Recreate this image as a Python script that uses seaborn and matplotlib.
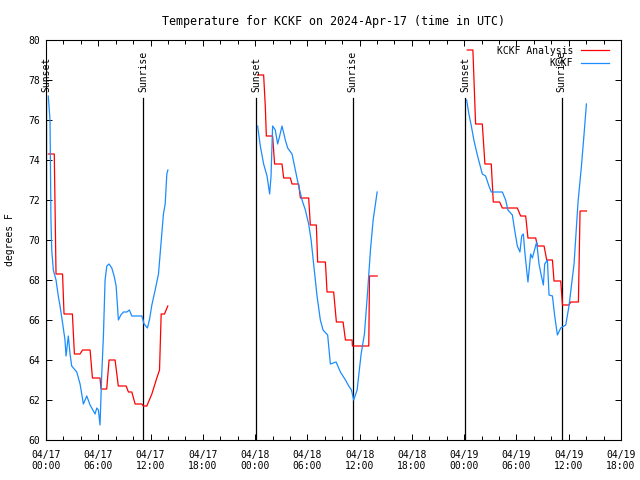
import pandas as pd
import seaborn as sns
import matplotlib
matplotlib.use('Agg')
import matplotlib.pyplot as plt
import matplotlib.dates as mdates

# hours after 2024-04-17 00:00 UTC, temperatures in degrees F
anl_day1_hours = [0.27, 0.95, 1.15, 1.9, 2.07, 3.03, 3.26, 3.9, 4.2, 5.06, 5.33, 6.2, 6.32, 6.97, 7.24,
                  7.93, 8.3, 9.2, 9.46, 9.85, 10.23, 11.0, 11.18, 11.57, 12.15, 12.72, 13.03, 13.22, 13.6, 13.98]
anl_day1_temps = [74.3, 74.3, 68.3, 68.3, 66.3, 66.3, 64.3, 64.3, 64.5, 64.5, 63.1, 63.1, 62.55, 62.55, 64.0,
                  64.0, 62.7, 62.7, 62.4, 62.4, 61.8, 61.8, 61.7, 61.7, 62.3, 63.1, 63.5, 66.3, 66.3, 66.7]
anl_day2_hours = [24.29, 24.98, 25.17, 25.29, 26.01, 26.24, 27.09, 27.28, 28.05, 28.24, 29.0, 29.2, 30.15,
                  30.34, 31.03, 31.18, 32.07, 32.26, 33.02, 33.33, 34.1, 34.37, 35.14, 35.17, 37.05, 37.13, 38.01]
anl_day2_temps = [78.25, 78.25, 76.7, 75.2, 75.2, 73.8, 73.8, 73.1, 73.1, 72.8, 72.8, 72.1, 72.1,
                  70.75, 70.75, 68.9, 68.9, 67.4, 67.4, 65.9, 65.9, 65.0, 65.0, 64.7, 64.7, 68.2, 68.2]
anl_day3_hours = [48.36, 49.0, 49.31, 50.08, 50.38, 51.11, 51.34, 52.07, 52.38, 54.1, 54.48, 55.06, 55.32,
                  56.21, 56.4, 57.17, 57.47, 58.13, 58.31, 59.08, 59.28, 60.03, 60.23, 61.11, 61.3, 62.03]
anl_day3_temps = [79.5, 79.5, 75.8, 75.8, 73.8, 73.8, 71.9, 71.9, 71.6, 71.6, 71.2, 71.2, 70.1,
                  70.1, 69.7, 69.7, 69.0, 69.0, 67.95, 67.95, 66.75, 66.75, 66.9, 66.9, 71.45, 71.45]

obs_day1_hours = [0.26, 0.46, 0.57, 0.66, 0.84, 1.15, 1.41, 1.61, 1.92, 2.18, 2.3, 2.56, 2.76, 2.95, 3.53,
                  3.91, 4.29, 4.68, 5.06, 5.63, 5.83, 6.01, 6.2, 6.4, 6.59, 6.78, 6.98, 7.24, 7.55, 7.82,
                  8.05, 8.31, 8.59, 8.89, 9.28, 9.57, 9.85, 11.0, 11.26, 11.64, 11.87, 12.15, 12.53, 12.91,
                  13.1, 13.48, 13.68, 13.87, 13.99]
obs_day1_temps = [77.2, 76.0, 71.0, 69.5, 68.5, 68.0, 67.2, 66.7, 65.8, 65.0, 64.2, 65.2, 64.3, 63.7, 63.4,
                  62.8, 61.8, 62.2, 61.75, 61.3, 61.6, 61.5, 60.75, 63.3, 65.2, 68.0, 68.7, 68.8, 68.6, 68.2,
                  67.7, 66.0, 66.25, 66.4, 66.4, 66.5, 66.2, 66.2, 65.8, 65.6, 66.0, 66.75, 67.5, 68.3,
                  69.3, 71.3, 71.8, 73.3, 73.5]
obs_day2_hours = [24.29, 24.6, 24.98, 25.37, 25.67, 25.83, 26.01, 26.32, 26.59, 26.82, 27.09, 27.47, 27.74,
                  28.24, 28.62, 29.0, 29.39, 29.77, 30.15, 30.43, 30.72, 31.11, 31.49, 31.8, 32.33, 32.64,
                  33.3, 33.79, 34.37, 34.75, 35.06, 35.32, 35.71, 36.17, 36.55, 36.93, 37.24, 37.55, 38.01]
obs_day2_temps = [75.7, 74.7, 73.8, 73.2, 72.3, 73.2, 75.7, 75.5, 74.8, 75.2, 75.7, 75.0, 74.6,
                  74.3, 73.5, 72.7, 72.0, 71.5, 70.8, 70.0, 68.8, 67.2, 66.0, 65.5, 65.25, 63.8,
                  63.9, 63.4, 63.0, 62.7, 62.5, 62.0, 62.5, 64.3, 65.3, 67.5, 69.5, 71.0, 72.4]
obs_day3_hours = [48.28, 48.54, 48.82, 49.11, 49.51, 50.08, 50.46, 50.84, 51.11, 52.38, 52.76, 53.02, 53.53,
                  53.79, 54.1, 54.4, 54.6, 54.79, 54.94, 55.17, 55.32, 55.63, 55.83, 56.01, 56.32, 56.59,
                  56.86, 57.09, 57.24, 57.55, 57.74, 58.13, 58.39, 58.7, 59.08, 59.66, 60.03, 60.61, 61.07,
                  61.46, 61.76, 62.03]
obs_day3_temps = [77.0, 76.3, 75.7, 75.0, 74.25, 73.3, 73.2, 72.7, 72.4, 72.4, 72.0, 71.5, 71.25,
                  70.5, 69.7, 69.4, 70.2, 70.3, 69.5, 68.5, 67.9, 69.3, 69.1, 69.4, 69.9, 68.8,
                  68.2, 67.75, 68.8, 69.0, 67.25, 67.2, 66.2, 65.25, 65.6, 65.75, 66.7, 68.8, 71.9,
                  73.7, 75.3, 76.8]

sunset_hours = [0.05, 24.1, 48.1]
sunrise_hours = [11.15, 35.2, 59.2]

start = pd.Timestamp('2024-04-17 00:00')

segments = [
    ('KCKF Analysis', anl_day1_hours, anl_day1_temps),
    ('KCKF Analysis', anl_day2_hours, anl_day2_temps),
    ('KCKF Analysis', anl_day3_hours, anl_day3_temps),
    ('KCKF', obs_day1_hours, obs_day1_temps),
    ('KCKF', obs_day2_hours, obs_day2_temps),
    ('KCKF', obs_day3_hours, obs_day3_temps),
]
frames = []
for i, (name, hrs, temps) in enumerate(segments):
    frames.append(pd.DataFrame({'time': start + pd.to_timedelta(hrs, unit='h'),
                                'temp': temps, 'series': name, 'seg': i}))
df = pd.concat(frames, ignore_index=True)

plt.rcParams['font.family'] = ['DejaVu Sans Mono']
plt.rcParams['font.size'] = 7

fig = plt.figure(figsize=(6.4, 4.8), dpi=100)
ax = fig.add_axes([46 / 640, 40 / 480, 575 / 640, 400 / 480])

# sunset / sunrise markers
for h in sunset_hours + sunrise_hours:
    t = start + pd.Timedelta(hours=h)
    ax.plot([t, t], [60, 77.1], color='black', lw=0.9)
for h in sunset_hours:
    ax.text(start + pd.Timedelta(hours=h), 77.4, 'Sunset', rotation=90, ha='center', va='bottom')
for h in sunrise_hours:
    ax.text(start + pd.Timedelta(hours=h), 77.4, 'Sunrise', rotation=90, ha='center', va='bottom')

sns.lineplot(data=df, x='time', y='temp', hue='series', units='seg', estimator=None, sort=False,
             palette={'KCKF Analysis': '#ff0000', 'KCKF': '#1a8cff'}, lw=0.9, ax=ax)

ax.set_xlim(start, start + pd.Timedelta(hours=66))
ax.set_ylim(60, 80)
ax.set_yticks(range(60, 81, 2))
ax.xaxis.set_major_locator(mdates.HourLocator(byhour=[0, 6, 12, 18]))
ax.xaxis.set_minor_locator(mdates.HourLocator(byhour=range(0, 24, 2)))
ax.xaxis.set_major_formatter(mdates.DateFormatter('%m/%d\n%H:%M'))
ax.tick_params(axis='both', which='both', direction='in', top=True, right=True, width=0.7)
ax.tick_params(axis='x', which='major', length=4.5, pad=7)
ax.tick_params(axis='x', which='minor', length=3)
ax.tick_params(axis='y', which='major', length=4, pad=4)
for s in ax.spines.values():
    s.set_linewidth(0.8)

ax.set_xlabel('')
ax.set_ylabel('degrees F', labelpad=10)
ax.set_title('Temperature for KCKF on 2024-Apr-17 (time in UTC)', pad=11)

handles, labels = ax.get_legend_handles_labels()
ax.legend(handles, labels, loc='upper right', bbox_to_anchor=(0.991, 1.003), markerfirst=False, frameon=False,
          handlelength=2.9, handletextpad=0.8, labelspacing=0.25, borderaxespad=0.3)

fig.savefig('out.png', dpi=100)
